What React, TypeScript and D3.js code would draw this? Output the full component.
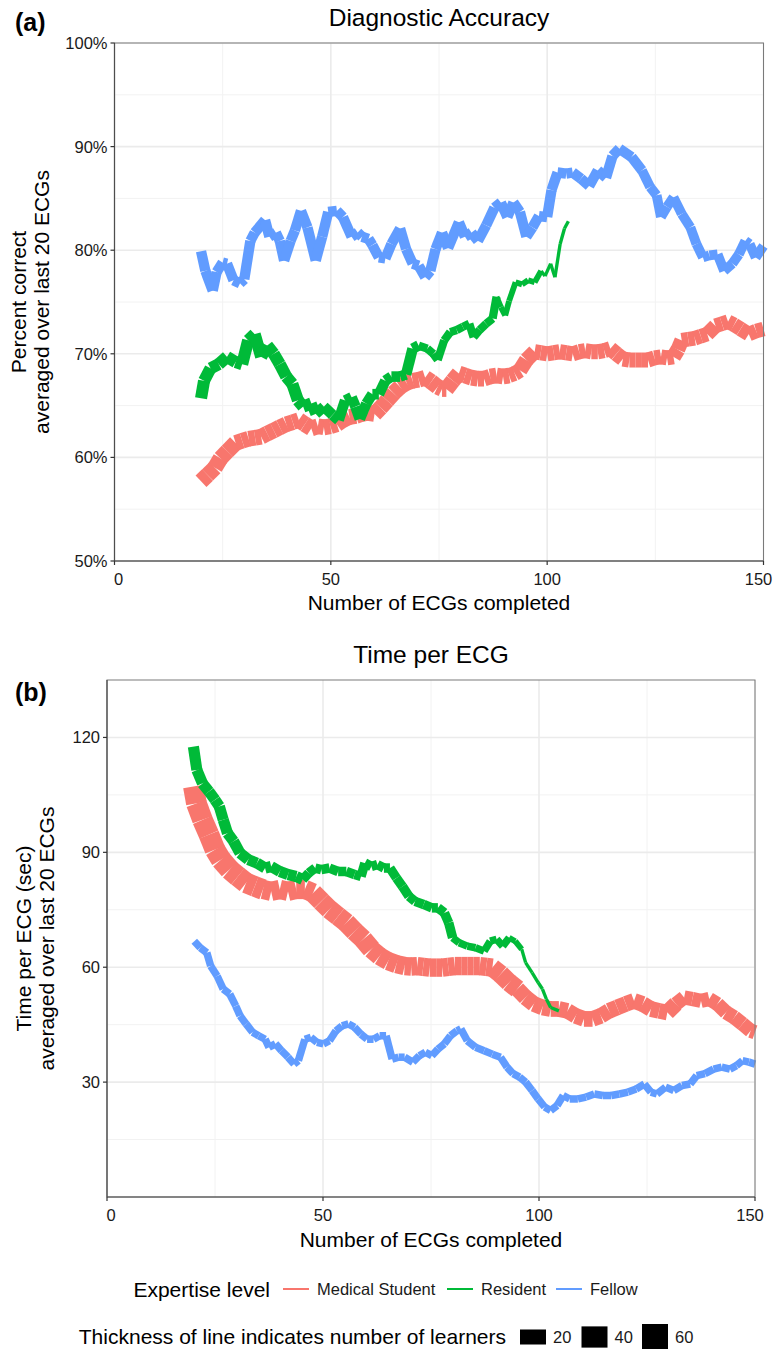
import React from "react";
import * as d3 from "d3";

type P = [number, number];

// ---------- Panel (a): diagnostic accuracy (percent) ----------
const accMedicalStudent: P[] = [
  [20, 57.7], [21.5, 58.3], [23.2, 59.0], [24.5, 59.9], [26.1, 60.6], [28, 61.4], [29.5, 61.6], [31, 61.8],
  [32.5, 61.9], [33.9, 62.0], [35.3, 62.3], [36.8, 62.6], [38.2, 62.9], [39.7, 63.2], [41.2, 63.4], [42.6, 63.6],
  [44, 63.2], [45.5, 62.8], [47, 63.0], [48.4, 62.9], [49.9, 63.0], [51.4, 63.2], [52.8, 63.6], [54.3, 63.9],
  [55.8, 64.0], [57.2, 64.2], [58.6, 64.3], [60.1, 64.2], [61.5, 64.8], [63, 65.5], [64.5, 66.2], [66, 66.8],
  [67.5, 67.2], [68.9, 67.4], [70.3, 67.5], [71.8, 67.7], [73.2, 67.3], [74.7, 66.8], [75.7, 66.6], [76.7, 66.6],
  [78.2, 67.4], [79.6, 68.1], [81, 67.9], [82.5, 67.7], [84, 67.6], [85.4, 67.6], [86.8, 67.8], [88.3, 67.9],
  [89.8, 67.8], [91.2, 67.9], [92.5, 68.1], [93.7, 68.4], [95.2, 69.4], [97.1, 70.2], [98.5, 70.1], [100, 70.0],
  [101.5, 70.1], [102.9, 70.2], [104.4, 70.1], [105.9, 70.0], [107.4, 70.2], [108.8, 70.3], [110.2, 70.2],
  [111.7, 70.2], [113.2, 70.3], [114.6, 70.5], [116, 70.0], [117.5, 69.5], [119, 69.4], [120.4, 69.4],
  [121.9, 69.4], [123.3, 69.4], [124.8, 69.6], [126.3, 69.7], [127.7, 69.6], [129.2, 69.7], [130.2, 70.4],
  [131.1, 71.3], [132.6, 71.4], [134.1, 71.5], [135.5, 71.7], [137, 71.9], [138.9, 72.7], [140.4, 72.9],
  [141.8, 73.1], [143.2, 72.8], [144.7, 72.4], [146.6, 71.9], [148.3, 72.2], [150, 72.4]
];
const accResident: P[] = [
  [20, 65.7], [20.7, 67.4], [22.2, 68.6], [24.1, 69.0], [26, 69.7], [28, 69.2], [29.5, 69.0], [30.9, 71.3],
  [32.4, 71.9], [33.9, 69.7], [35.3, 70.8], [36.8, 70.0], [38.2, 69.0], [39.7, 67.8], [41.1, 67.1], [42.4, 65.5],
  [43.6, 64.9], [45.5, 65.2], [46.5, 64.2], [48.4, 64.9], [50.4, 64.1], [51.8, 63.6], [53.3, 65.5], [54.8, 65.8],
  [55.7, 64.9], [56.7, 63.7], [58.2, 65.2], [59.6, 66.1], [61.1, 66.1], [62.6, 67.4], [64, 67.8], [66, 67.8],
  [67.4, 68.0], [68.9, 70.5], [70.3, 70.8], [72.3, 70.5], [73.7, 70.0], [74.7, 69.4], [76.2, 71.3], [77.6, 72.1],
  [79.1, 72.3], [80.5, 72.6], [82, 72.9], [83, 71.6], [84.4, 72.3], [85.9, 72.9], [87.4, 73.4], [88.3, 75.5],
  [89.3, 74.5], [90.3, 73.7], [91.2, 75.1], [92.7, 76.9], [94.2, 76.7], [95.6, 77.1], [97.1, 76.9], [98.6, 78.0],
  [99.5, 77.5], [100.8, 78.7], [101.8, 77.4], [103, 80.6], [104, 82.1], [104.9, 82.8]
];
const accFellow: P[] = [
  [20, 79.9], [21, 78.0], [22.7, 76.1], [23.6, 77.9], [25, 78.8], [26, 78.7], [27.5, 77.1], [29, 76.8],
  [30, 77.2], [31.4, 80.9], [32.4, 81.7], [34.8, 82.9], [35.8, 81.3], [37.3, 81.7], [38.2, 80.9], [39.2, 79.0],
  [40.7, 80.9], [41.7, 81.9], [43.1, 83.8], [44.6, 82.2], [46.5, 79.0], [48, 81.3], [49.4, 83.7], [51.4, 83.8],
  [52.8, 83.2], [54.8, 81.3], [56.2, 81.7], [57.2, 81.3], [58.7, 81.1], [59.6, 80.5], [61.1, 79.3], [62.6, 79.2],
  [64, 80.6], [66, 82.1], [67.4, 80.1], [68.9, 78.7], [70.3, 78.5], [71.8, 77.4], [73, 78.0], [74.2, 80.1],
  [75.7, 81.7], [77.1, 80.2], [79.6, 82.7], [81, 81.3], [82.5, 81.7], [84, 80.9], [85.9, 82.4], [87.8, 84.1],
  [89.3, 84.6], [90.8, 83.2], [92.2, 84.6], [93.7, 83.7], [95.2, 81.3], [96.6, 82.2], [98.1, 83.3], [100, 83.2],
  [101, 85.8], [102.4, 87.5], [104.4, 87.4], [105.9, 87.5], [107.8, 86.9], [109.7, 86.2], [111.7, 87.7],
  [113.6, 87.0], [115.1, 89.1], [116.7, 89.8], [119.5, 89.0], [121.9, 87.7], [123.8, 86.1], [125.3, 85.3],
  [126.3, 83.2], [127.7, 84.2], [129.2, 85.1], [131.1, 83.5], [133.1, 82.2], [134.5, 80.6], [136, 79.3],
  [137.5, 79.5], [139.4, 79.6], [140.9, 78.0], [142.8, 78.7], [144.3, 79.6], [145.8, 80.9], [146.8, 80.6],
  [148.2, 79.3], [150, 80.4]
];

// ---------- Panel (b): time per ECG (sec) ----------
const timeMedicalStudent: P[] = [
  [20, 107.2], [20.7, 102.8], [22.1, 98.5], [23.6, 94.6], [25, 90.7], [26.4, 88.1], [28.4, 85.5], [30.3, 83.7],
  [32.2, 82.0], [34.2, 81.1], [36.1, 80.3], [38, 79.8], [40, 80.3], [41.9, 79.8], [43.8, 80.3], [45.8, 80.3],
  [47.7, 79.4], [49.6, 77.2], [51.5, 75.1], [53.5, 73.3], [55.4, 71.6], [57.3, 69.4], [59.3, 67.3], [61.2, 64.7],
  [63.1, 62.9], [65.1, 61.6], [67, 60.8], [68.9, 60.3], [70.4, 60.2], [71.8, 60.3], [73.2, 60.1], [74.7, 59.9],
  [76.2, 59.9], [77.6, 59.9], [79, 60.1], [80.5, 60.3], [82, 60.3], [83.4, 60.3], [84.8, 60.3], [86.3, 60.3],
  [87.8, 60.1], [89.2, 59.9], [91.1, 58.2], [93.1, 56.0], [95, 54.3], [96.9, 52.1], [98.8, 50.4], [100.8, 49.5],
  [102.7, 49.1], [104.6, 49.1], [106.6, 48.6], [108.5, 47.3], [110.4, 46.5], [112.4, 46.5], [114.3, 47.3],
  [116.2, 48.6], [118.1, 49.5], [120.1, 50.4], [122, 51.2], [124, 50.4], [125.9, 49.1], [127.8, 48.6],
  [129.7, 48.2], [131.7, 50.4], [133.6, 52.1], [135.5, 51.7], [137.5, 51.2], [139.4, 51.7], [141.3, 50.4],
  [143.3, 48.2], [145.2, 46.9], [147.1, 45.2], [149, 43.4], [150, 43.0]
];
const timeResident: P[] = [
  [20, 117.6], [20.8, 111.5], [22.1, 108.0], [23.6, 105.9], [25, 103.7], [26, 102.0], [26.9, 98.5], [27.9, 95.0],
  [29.3, 92.9], [30.8, 89.8], [32.7, 88.1], [34.7, 87.2], [36.6, 85.9], [38, 86.3], [40, 85.0], [41.9, 84.2],
  [43.8, 83.7], [45.3, 82.9], [46.7, 84.6], [48.2, 85.9], [49.6, 85.5], [51.5, 85.9], [53.5, 85.0], [55.4, 85.0],
  [57.3, 84.2], [58.8, 83.7], [59.7, 87.2], [61.2, 86.3], [62.6, 86.8], [64.1, 85.9], [65.5, 85.9], [67, 83.3],
  [68.4, 81.1], [69.9, 78.5], [71.3, 77.2], [73.3, 76.4], [75.2, 75.5], [76.6, 75.5], [78.1, 74.2], [79.1, 71.6],
  [80, 67.7], [81.5, 66.4], [83.4, 65.5], [85.3, 65.1], [87.3, 64.2], [88.7, 66.8], [90.2, 67.3], [91.6, 65.5],
  [93.1, 67.7], [94.5, 66.8], [96, 64.7], [96.9, 61.2], [98.4, 58.6], [99.8, 56.0], [100.8, 54.3], [101.7, 51.7],
  [102.7, 49.5], [104.6, 48.6]
];
const timeFellow: P[] = [
  [20.2, 66.8], [21.6, 65.1], [23.1, 63.8], [24, 60.3], [25.5, 57.7], [26.9, 54.3], [28.4, 53.0], [29.8, 49.9],
  [30.8, 47.3], [32.2, 45.2], [33.7, 43.0], [35.1, 42.1], [36.6, 41.2], [37.5, 39.1], [39, 40.0], [40.4, 38.2],
  [41.9, 36.5], [43.3, 34.7], [44.3, 35.6], [45.8, 41.2], [47.2, 41.7], [48.6, 40.4], [50.1, 40.0], [51.5, 40.8],
  [53, 43.4], [54.4, 44.7], [55.9, 45.2], [57.3, 44.3], [58.8, 42.5], [60.2, 41.2], [61.7, 41.2], [63.1, 42.1],
  [64.6, 42.1], [66, 36.0], [67.5, 36.5], [68.9, 36.5], [70.8, 35.2], [72.3, 36.9], [73.7, 37.8], [75.2, 36.9],
  [76.6, 38.6], [78.1, 40.0], [79.5, 42.1], [81, 43.4], [81.9, 43.9], [83.4, 40.8], [85.3, 39.1], [87.3, 38.2],
  [89.2, 37.3], [91.1, 36.5], [92.6, 33.9], [94, 32.2], [95.5, 31.3], [96.9, 30.0], [98.4, 27.8], [99.8, 25.6],
  [101.3, 23.5], [102.7, 22.6], [104.2, 23.9], [105.6, 26.5], [107.1, 25.6], [109, 25.6], [110.9, 26.1],
  [112.8, 26.9], [114.8, 26.5], [116.7, 26.5], [118.6, 26.9], [120.6, 27.4], [122.5, 28.2], [124.4, 29.5],
  [125.9, 27.4], [127.3, 26.9], [129.3, 28.7], [131.2, 27.8], [133.1, 29.1], [135, 29.5], [136.5, 31.7],
  [138.4, 32.2], [140.4, 33.4], [142.3, 33.9], [144.2, 33.4], [145.7, 34.3], [147.1, 35.6], [148.6, 35.2],
  [150, 34.7]
];

// number of learners (step function: [from x, learners])
const accLearnersMS: P[] = [[20, 22], [90, 20], [130, 19]];
const accLearnersRes: P[] = [[20, 13], [45, 10], [70, 6], [88, 3], [98, 1]];
const accLearnersFel: P[] = [[20, 9.5], [120, 8.5]];
const timeLearnersMS: P[] = [[20, 38], [35, 33], [60, 30], [95, 22], [130, 18]];
const timeLearnersRes: P[] = [[20, 11], [45, 8], [80, 5], [92, 3], [96, 1]];
const timeLearnersFel: P[] = [[20, 5]];

const seriesNames = ["Medical Student", "Resident", "Fellow"];
const seriesColors = ["#F8766D", "#00BA38", "#619CFF"];
const sizeBreaks = [20, 40, 60];
const xTicks = [0, 50, 100, 150];
const xMinor = [25, 75, 125];
const accYTicks = [0.5, 0.6, 0.7, 0.8, 0.9, 1.0];
const accYMinor = [0.55, 0.65, 0.75, 0.85, 0.95];
const timeYTicks = [30, 60, 90, 120];
const timeYMinor = [15, 45, 75, 105];

const FONT = "'Liberation Sans', Arial, Helvetica, sans-serif";
const widthScale = d3.scaleSqrt().domain([0, 60]).range([0, 26]);

function learnersAt(steps: P[], x: number) {
  let v = steps[0][1];
  for (const [sx, n] of steps) if (x >= sx) v = n;
  return v;
}

type PanelProps = {
  left: number; right: number; top: number; bottom: number;
  yDomain: [number, number];
  yTicks: number[]; yMinor: number[];
  yFormat: (v: number) => string;
  series: { data: P[]; learners: P[]; color: string }[];
};

function Panel(p: PanelProps) {
  const x = d3.scaleLinear().domain([0, 150]).range([p.left, p.right]);
  const y = d3.scaleLinear().domain(p.yDomain).range([p.bottom, p.top]);
  return (
    <g>
      <rect x={p.left} y={p.top} width={p.right - p.left} height={p.bottom - p.top} fill="#fff" />
      {p.yMinor.map((v) => (
        <line key={"ym" + v} x1={p.left} x2={p.right} y1={y(v)} y2={y(v)} stroke="#F2F2F2" strokeWidth={1} />
      ))}
      {xMinor.map((v) => (
        <line key={"xm" + v} x1={x(v)} x2={x(v)} y1={p.top} y2={p.bottom} stroke="#F2F2F2" strokeWidth={1} />
      ))}
      {p.yTicks.map((v) => (
        <line key={"yg" + v} x1={p.left} x2={p.right} y1={y(v)} y2={y(v)} stroke="#EBEBEB" strokeWidth={1.6} />
      ))}
      {xTicks.map((v) => (
        <line key={"xg" + v} x1={x(v)} x2={x(v)} y1={p.top} y2={p.bottom} stroke="#EBEBEB" strokeWidth={1.6} />
      ))}
      {p.series.map((s, si) => (
        <g key={"s" + si}>
          {s.data.slice(0, -1).map((d, i) => {
            const e = s.data[i + 1];
            return (
              <line
                key={i}
                x1={x(d[0])} y1={y(d[1])} x2={x(e[0])} y2={y(e[1])}
                stroke={s.color}
                strokeWidth={widthScale(learnersAt(s.learners, d[0]))}
                strokeLinecap="butt"
              />
            );
          })}
        </g>
      ))}
      <rect x={p.left} y={p.top} width={p.right - p.left} height={p.bottom - p.top} fill="none" stroke="#7a7a7a" strokeWidth={1} />
      <line x1={p.left} x2={p.left} y1={p.top} y2={p.bottom} stroke="#4d4d4d" strokeWidth={1.2} />
      <line x1={p.left} x2={p.right} y1={p.bottom} y2={p.bottom} stroke="#4d4d4d" strokeWidth={1.2} />
      {p.yTicks.map((v) => (
        <g key={"yt" + v}>
          <line x1={p.left - 4} x2={p.left} y1={y(v)} y2={y(v)} stroke="#333" strokeWidth={1.2} />
          <text x={p.left - 7} y={y(v) + 6} textAnchor="end" fontSize={16.5} fill="#1a1a1a" fontFamily={FONT}>
            {p.yFormat(v)}
          </text>
        </g>
      ))}
      {xTicks.map((v, i) => (
        <g key={"xt" + v}>
          <line x1={x(v)} x2={x(v)} y1={p.bottom} y2={p.bottom + 4} stroke="#333" strokeWidth={1.2} />
          <text
            x={x(v) + (i === 0 ? 4 : i === xTicks.length - 1 ? -5 : 0)}
            y={p.bottom + 24}
            textAnchor="middle" fontSize={16.5} fill="#1a1a1a" fontFamily={FONT}
          >
            {v}
          </text>
        </g>
      ))}
    </g>
  );
}

export default function App() {
  const accPanel = { left: 114.5, right: 763.5, top: 43, bottom: 561 };
  const timePanel = { left: 107, right: 755, top: 680, bottom: 1197 };
  const accMid = (accPanel.top + accPanel.bottom) / 2;
  const timeMid = (timePanel.top + timePanel.bottom) / 2;
  const keyX = [283, 447, 556];
  const sizeKeyX = [520, 581.5, 642];
  return (
    <svg width={775} height={1349} style={{ position: "absolute", left: 0, top: 0, background: "#fff" }} fontFamily={FONT}>
      <rect x={0} y={0} width={775} height={1349} fill="#fff" />
      {/* Panel (a) */}
      <text x={15} y={31} fontSize={25} fontWeight="bold" fill="#000">(a)</text>
      <text x={(accPanel.left + accPanel.right) / 2} y={26} fontSize={24.5} textAnchor="middle" fill="#000">Diagnostic Accuracy</text>
      <Panel
        {...accPanel}
        yDomain={[0.5, 1.0]}
        yTicks={accYTicks}
        yMinor={accYMinor}
        yFormat={d3.format(".0%")}
        series={[
          { data: accMedicalStudent.map(([a, b]) => [a, b / 100] as P), learners: accLearnersMS, color: seriesColors[0] },
          { data: accResident.map(([a, b]) => [a, b / 100] as P), learners: accLearnersRes, color: seriesColors[1] },
          { data: accFellow.map(([a, b]) => [a, b / 100] as P), learners: accLearnersFel, color: seriesColors[2] },
        ]}
      />
      <text x={(accPanel.left + accPanel.right) / 2} y={610} fontSize={21} textAnchor="middle" fill="#000">Number of ECGs completed</text>
      <text transform={`translate(26,${accMid}) rotate(-90)`} fontSize={21} textAnchor="middle" fill="#000">Percent correct</text>
      <text transform={`translate(49,${accMid}) rotate(-90)`} fontSize={21} textAnchor="middle" fill="#000">averaged over last 20 ECGs</text>

      {/* Panel (b) */}
      <text x={15} y={701} fontSize={25} fontWeight="bold" fill="#000">(b)</text>
      <text x={(timePanel.left + timePanel.right) / 2} y={663} fontSize={24.5} textAnchor="middle" fill="#000">Time per ECG</text>
      <Panel
        {...timePanel}
        yDomain={[0, 135]}
        yTicks={timeYTicks}
        yMinor={timeYMinor}
        yFormat={(v) => String(v)}
        series={[
          { data: timeMedicalStudent, learners: timeLearnersMS, color: seriesColors[0] },
          { data: timeResident, learners: timeLearnersRes, color: seriesColors[1] },
          { data: timeFellow, learners: timeLearnersFel, color: seriesColors[2] },
        ]}
      />
      <text x={(timePanel.left + timePanel.right) / 2} y={1247} fontSize={21} textAnchor="middle" fill="#000">Number of ECGs completed</text>
      <text transform={`translate(31,${timeMid}) rotate(-90)`} fontSize={21} textAnchor="middle" fill="#000">Time per ECG (sec)</text>
      <text transform={`translate(54,${timeMid}) rotate(-90)`} fontSize={21} textAnchor="middle" fill="#000">averaged over last 20 ECGs</text>

      {/* Legend: expertise */}
      <text x={270} y={1297} fontSize={21} textAnchor="end" fill="#000">Expertise level</text>
      {seriesNames.map((n, i) => (
        <g key={n}>
          <line x1={keyX[i]} x2={keyX[i] + 26} y1={1289} y2={1289} stroke={seriesColors[i]} strokeWidth={2} />
          <text x={keyX[i] + 34} y={1295} fontSize={16.5} fill="#1a1a1a">{n}</text>
        </g>
      ))}

      {/* Legend: size */}
      <text x={506} y={1344} fontSize={21} textAnchor="end" fill="#000">Thickness of line indicates number of learners</text>
      {sizeBreaks.map((b, i) => {
        const h = widthScale(b);
        return (
          <g key={b}>
            <rect x={sizeKeyX[i]} y={1337 - h / 2} width={26} height={h} fill="#000" />
            <text x={sizeKeyX[i] + 33} y={1343} fontSize={16.5} fill="#1a1a1a">{b}</text>
          </g>
        );
      })}
    </svg>
  );
}
